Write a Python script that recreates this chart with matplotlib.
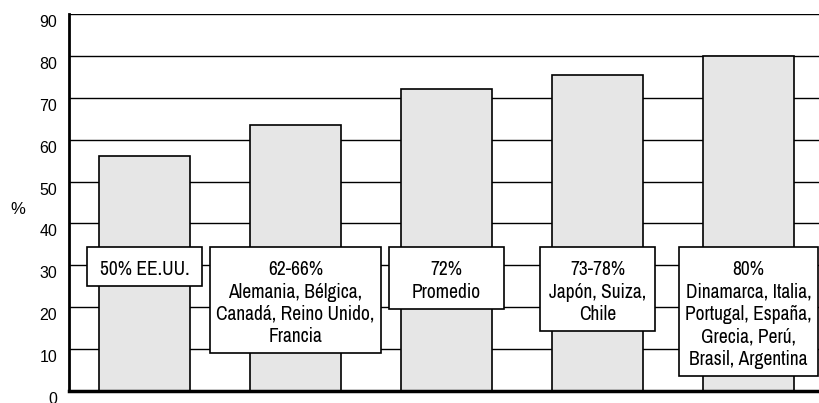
import matplotlib
matplotlib.use("Agg")
import matplotlib.pyplot as plt
from matplotlib.patches import Rectangle
from matplotlib.transforms import ScaledTranslation
import numpy as np

# bar heights (%) and the grouped country notes drawn over each bar
heights = [56, 63.5, 72, 75.5, 80]
notes = [
    "50% EE.UU.",
    "62-66%\nAlemania, Bélgica,\nCanadá, Reino Unido,\nFrancia",
    "72%\nPromedio",
    "73-78%\nJapón, Suiza,\nChile",
    "80%\nDinamarca, Italia,\nPortugal, España,\nGrecia, Perú,\nBrasil, Argentina",
]
y_ticks = list(range(0, 100, 10))
note_top = 34.4  # where the note boxes start (in %)

NOTE_FONT = ["Archivo Narrow", "Liberation Sans", "DejaVu Sans"]
plt.rcParams["font.family"] = ["Liberation Sans", "DejaVu Sans"]

fig = plt.figure(figsize=(8.19, 4.03), dpi=100)
ax = fig.add_axes([69 / 819, 12 / 403, 1 - 69 / 819, 377 / 403])

x = np.arange(len(heights))
ax.bar(x, heights, width=0.6, color="#e6e6e6", edgecolor="black",
       linewidth=1.2, zorder=2)

for yv in y_ticks[1:]:
    ax.axhline(yv, color="black", linewidth=1.0, zorder=1)

ax.set_xlim(-0.5, 4.467)
ax.set_ylim(0, 90)
ax.set_yticks(y_ticks)
ax.set_xticks([])
ax.tick_params(axis="y", length=0, pad=8.5, labelsize=11.5)
# labels sit a little below their grid lines
shift = ScaledTranslation(0, -7 / 100, fig.dpi_scale_trans)
for lab in ax.get_yticklabels():
    lab.set_transform(lab.get_transform() + shift)
for sp in ("top", "right"):
    ax.spines[sp].set_visible(False)
ax.spines["left"].set_linewidth(2)
ax.spines["bottom"].set_linewidth(2.5)
ax.spines["left"].set_zorder(3)
ax.spines["bottom"].set_zorder(3)

fig.text(18 / 819, 1 - 210 / 403, "%", ha="center", va="center", fontsize=12)

texts = []
for xi, note in zip(x, notes):
    t = ax.annotate(note, xy=(xi, note_top), xytext=(0, -9.5),
                    textcoords="offset points", ha="center", va="top",
                    fontsize=14, linespacing=1.23, zorder=5, family=NOTE_FONT)
    texts.append(t)

# white boxes sized to the text, at least a fixed minimum width
fig.canvas.draw()
renderer = fig.canvas.get_renderer()
inv = ax.transData.inverted()
for xi, t in zip(x, texts):
    bb = t.get_window_extent(renderer)
    w = max(115, bb.width + 12)
    top = ax.transData.transform((xi, note_top))[1]
    bottom = bb.y0 - 7
    cx = ax.transData.transform((xi, 0))[0]
    (x0, y0) = inv.transform((cx - w / 2, bottom))
    (x1, y1) = inv.transform((cx + w / 2, top))
    ax.add_patch(Rectangle((x0, y0), x1 - x0, y1 - y0, facecolor="white",
                           edgecolor="black", linewidth=1.2, zorder=4,
                           clip_on=False))

fig.savefig("out.png", dpi=100)
